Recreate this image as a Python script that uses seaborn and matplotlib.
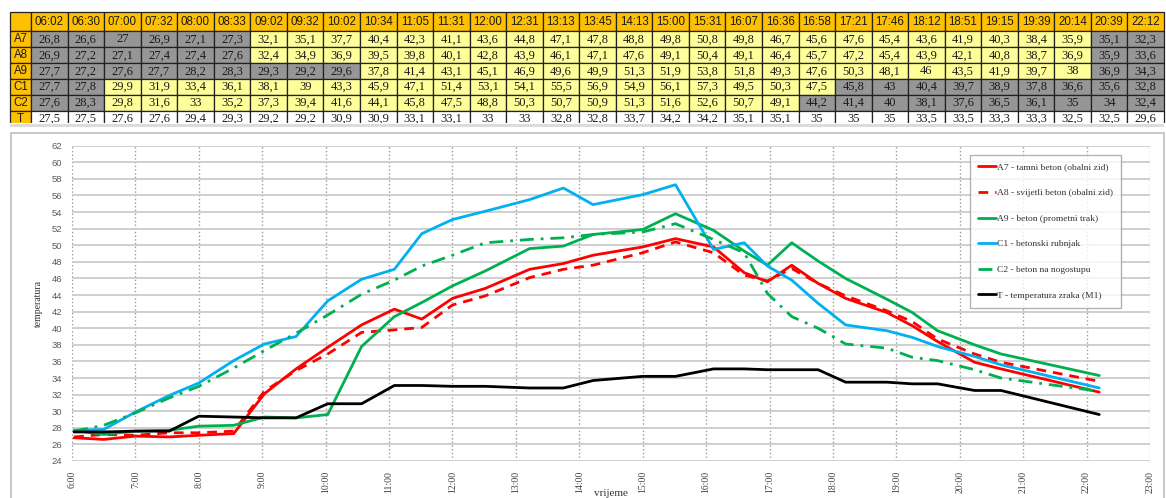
import numpy as np
import pandas as pd
import matplotlib.pyplot as plt
import seaborn as sns
from matplotlib.patches import Rectangle

# measurement times and temperatures (from the table)
times = ["06:02", "06:30", "07:00", "07:32", "08:00", "08:33", "09:02", "09:32", "10:02", "10:34",
         "11:05", "11:31", "12:00", "12:31", "13:13", "13:45", "14:13", "15:00", "15:31", "16:07",
         "16:36", "16:58", "17:21", "17:46", "18:12", "18:51", "19:15", "19:39", "20:14", "20:39", "22:12"]

a7 = [26.8, 26.6, 27, 26.9, 27.1, 27.3, 32.1, 35.1, 37.7, 40.4, 42.3, 41.1, 43.6, 44.8, 47.1, 47.8,
      48.8, 49.8, 50.8, 49.8, 46.7, 45.6, 47.6, 45.4, 43.6, 41.9, 40.3, 38.4, 35.9, 35.1, 32.3]
a8 = [26.9, 27.2, 27.1, 27.4, 27.4, 27.6, 32.4, 34.9, 36.9, 39.5, 39.8, 40.1, 42.8, 43.9, 46.1, 47.1,
      47.6, 49.1, 50.4, 49.1, 46.4, 45.7, 47.2, 45.4, 43.9, 42.1, 40.8, 38.7, 36.9, 35.9, 33.6]
a9 = [27.7, 27.2, 27.6, 27.7, 28.2, 28.3, 29.3, 29.2, 29.6, 37.8, 41.4, 43.1, 45.1, 46.9, 49.6, 49.9,
      51.3, 51.9, 53.8, 51.8, 49.3, 47.6, 50.3, 48.1, 46, 43.5, 41.9, 39.7, 38, 36.9, 34.3]
c1 = [27.7, 27.8, 29.9, 31.9, 33.4, 36.1, 38.1, 39, 43.3, 45.9, 47.1, 51.4, 53.1, 54.1, 55.5, 56.9,
      54.9, 56.1, 57.3, 49.5, 50.3, 47.5, 45.8, 43, 40.4, 39.7, 38.9, 37.8, 36.6, 35.6, 32.8]
c2 = [27.6, 28.3, 29.8, 31.6, 33, 35.2, 37.3, 39.4, 41.6, 44.1, 45.8, 47.5, 48.8, 50.3, 50.7, 50.9,
      51.3, 51.6, 52.6, 50.7, 49.1, 44.2, 41.4, 40, 38.1, 37.6, 36.5, 36.1, 35, 34, 32.4]
t_air = [27.5, 27.5, 27.6, 27.6, 29.4, 29.3, 29.2, 29.2, 30.9, 30.9, 33.1, 33.1, 33, 33, 32.8, 32.8,
         33.7, 34.2, 34.2, 35.1, 35.1, 35, 35, 35, 33.5, 33.5, 33.3, 33.3, 32.5, 32.5, 29.6]

row_names = ["A7", "A8", "A9", "C1", "C2", "T"]
legend_labels = ["A7 - tamni beton (obalni zid)", "A8 - svijetli beton (obalni zid)",
                 "A9 - beton (prometni trak)", "C1 - betonski rubnjak",
                 "C2 - beton na nogostupu", "T - temperatura zraka (M1)"]

# first/last yellow column index per row (others grey, T row white)
yellow_span = {"A7": (6, 28), "A8": (6, 28), "A9": (9, 28), "C1": (2, 21), "C2": (2, 20)}

W, H = 1166, 498
HEADER = "#FFC000"
YELLOW = "#FFFF99"
GREY = "#969696"

sns.set_style("white")
plt.rcParams["font.family"] = ["Liberation Serif", "DejaVu Serif"]

fig = plt.figure(figsize=(W / 100, H / 100), dpi=100)

# ---- table ----
series = [a7, a8, a9, c1, c2, t_air]
cell_text = [[""] + times]
colours = [[HEADER] * (len(times) + 1)]
for name, vals in zip(row_names, series):
    cell_text.append([name] + [f"{v:g}".replace(".", ",") for v in vals])
    row_col = [HEADER]
    for i in range(len(vals)):
        if name == "T":
            row_col.append("white")
        else:
            lo, hi = yellow_span[name]
            row_col.append(YELLOW if lo <= i <= hi else GREY)
    colours.append(row_col)

ax_tab = fig.add_axes([10 / W, 1 - 127 / H, 1154 / W, 114.5 / H])
ax_tab.axis("off")
col_w = [21] + [36.5] * len(times)
tab = ax_tab.table(cellText=cell_text, cellColours=colours, cellLoc="center",
                   colWidths=[c / sum(col_w) for c in col_w], bbox=[0, 0, 1, 1])
tab.auto_set_font_size(False)
for (r, c), cell in tab.get_celld().items():
    cell.set_height(19 if r == 0 else 16)
    cell.set_edgecolor("#222222")
    cell.set_linewidth(0.9)
    txt = cell.get_text()
    if r == 0 or c == 0:
        txt.set_fontfamily(["Liberation Sans", "DejaVu Sans"])
        txt.set_fontsize(8.3)
    else:
        txt.set_fontsize(9.0)
    txt.set_color("#1a1a1a")

# cover the cut-off last table row
fig.patches.append(Rectangle((0, 1 - 133 / H), 1, 10 / H, transform=fig.transFigure,
                             facecolor="white", edgecolor="none", zorder=3))
fig.patches.append(Rectangle((10 / W, 1 - 127 / H), 1154 / W, 3 / H, transform=fig.transFigure,
                             facecolor="#dcdcdc", edgecolor="none", zorder=4))
# chart frame
fig.patches.append(Rectangle((11 / W, -0.01), 1153 / W, (498 - 133) / H + 0.01,
                             transform=fig.transFigure, fill=False,
                             edgecolor="#bdbdbd", linewidth=1.2, zorder=4))

# ---- line chart ----
hours = [int(s[:2]) + int(s[3:]) / 60 for s in times]

ax = fig.add_axes([72 / W, 1 - 461 / H, 1078 / W, 315.3 / H])
styles = [
    ("#FF0000", "-"),
    ("#FF0000", (0, (3.5, 2.5))),
    ("#00B050", "-"),
    ("#00B0F0", "-"),
    ("#00B050", (0, (5, 2.5, 1, 2.5))),
    ("#000000", "-"),
]
for vals, lab, (col, ls) in zip(series, legend_labels, styles):
    sns.lineplot(x=hours, y=vals, ax=ax, color=col, linestyle=ls, linewidth=2.0, label=lab)

ax.set_xlim(6, 23)
ax.set_ylim(24, 62)
ax.set_xticks(range(6, 24))
ax.set_xticklabels([f"{h}:00" for h in range(6, 24)], rotation=90, fontsize=7, color="#404040")
ax.set_yticks(range(24, 63, 2))
ax.set_yticklabels([str(v) for v in range(24, 63, 2)], fontsize=6.8, color="#595959",
                   fontfamily=["Liberation Sans", "DejaVu Sans"])
for s in ax.spines.values():
    s.set_visible(False)
ax.yaxis.grid(True, color="#cccccc", linewidth=1.3)
ax.xaxis.grid(True, color="#9a9a9a", linestyle=":", linewidth=1.0)
ax.set_axisbelow(True)
ax.tick_params(axis="both", length=4, color="#b0b0b0", pad=3)

ax.set_xlabel("vrijeme", fontsize=8, color="#333333", labelpad=-3)
ax.set_ylabel("temperatura", fontsize=7, color="#333333", labelpad=6)

leg = ax.legend(loc="upper left", bbox_to_anchor=(970 / W, 1 - 155 / H),
                bbox_transform=fig.transFigure, frameon=True, fancybox=False,
                fontsize=6.8, labelspacing=1.8, handlelength=1.9, handletextpad=0.1,
                borderpad=0.85, borderaxespad=0)
leg.get_frame().set_edgecolor("#a0a0a0")
leg.get_frame().set_linewidth(1.0)
for t in leg.get_texts():
    t.set_color("#333333")

fig.savefig("out.png", dpi=100)
